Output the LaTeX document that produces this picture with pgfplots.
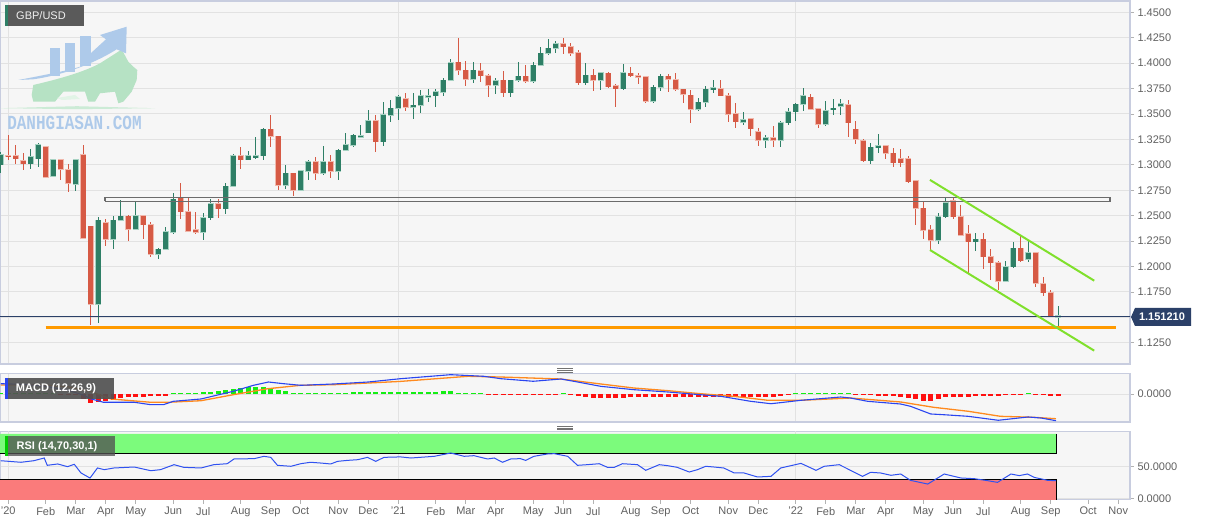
\documentclass[border=0pt]{standalone}
\usepackage{pgfplots}
\pgfplotsset{compat=1.18}
\usepackage{pgfplotstable}
\usepackage{fontspec}
\setmainfont{Liberation Sans}
\newfontfamily\wmfont{Liberation Mono}
\definecolor{upc}{HTML}{2E7F66}
\definecolor{uph}{HTML}{A6D2C2}
\definecolor{dnc}{HTML}{D65A45}
\definecolor{dnh}{HTML}{F0B8AC}
\definecolor{gridc}{HTML}{E2E2E2}
\definecolor{bgc}{HTML}{F6F6F6}
\definecolor{framec}{HTML}{C8CDDF}
\definecolor{tickc}{HTML}{606060}
\definecolor{navy}{HTML}{2B4068}
\definecolor{orangec}{HTML}{FF9A00}
\definecolor{chan}{HTML}{80E02C}
\definecolor{macdb}{HTML}{2A45F0}
\definecolor{macdo}{HTML}{FF8A1E}
\definecolor{histg}{HTML}{14EE14}
\definecolor{histr}{HTML}{FF1010}
\definecolor{rsig}{HTML}{7CFB7C}
\definecolor{rsir}{HTML}{FA7B7B}
\definecolor{rsil}{HTML}{3052F0}
\definecolor{wmblue}{HTML}{AECAEA}
\definecolor{wmgreen}{HTML}{B6E2C4}
\definecolor{boxg}{HTML}{5A5A5A}

\pgfplotstableread{
i O H L C
0 1.300 1.313 1.292 1.310
1 1.309 1.329 1.305 1.308
2 1.309 1.320 1.301 1.306
3 1.304 1.312 1.295 1.301
4 1.301 1.316 1.296 1.308
5 1.306 1.321 1.298 1.320
6 1.318 1.319 1.288 1.288
7 1.289 1.306 1.288 1.305
8 1.305 1.306 1.285 1.296
9 1.295 1.301 1.273 1.282
10 1.281 1.305 1.274 1.305
11 1.310 1.320 1.227 1.2276
12 1.2397 1.240 1.1423 1.163
13 1.163 1.249 1.1446 1.2456
14 1.243 1.247 1.220 1.227
15 1.227 1.2496 1.2168 1.2456
16 1.2456 1.265 1.2456 1.2496
17 1.2496 1.2506 1.225 1.237
18 1.237 1.2637 1.236 1.250
19 1.250 1.250 1.227 1.241
20 1.241 1.244 1.2096 1.212
21 1.212 1.2178 1.2076 1.2171
22 1.2171 1.239 1.216 1.234
23 1.234 1.2725 1.2325 1.266
24 1.267 1.282 1.247 1.254
25 1.254 1.2686 1.235 1.235
26 1.236 1.254 1.232 1.234
27 1.234 1.253 1.226 1.248
28 1.248 1.266 1.246 1.262
29 1.262 1.2666 1.248 1.257
30 1.257 1.282 1.252 1.279
31 1.279 1.311 1.279 1.3086
32 1.3086 1.318 1.296 1.305
33 1.305 1.314 1.305 1.3086
34 1.307 1.327 1.306 1.309
35 1.309 1.336 1.305 1.335
36 1.335 1.349 1.318 1.328
37 1.328 1.328 1.275 1.280
38 1.280 1.300 1.276 1.2916
39 1.2916 1.292 1.269 1.275
40 1.275 1.295 1.274 1.294
41 1.294 1.305 1.285 1.303
42 1.303 1.308 1.285 1.292
43 1.292 1.3185 1.290 1.303
44 1.303 1.310 1.287 1.294
45 1.294 1.316 1.285 1.3145
46 1.3145 1.331 1.3145 1.3195
47 1.3195 1.330 1.318 1.329
48 1.327 1.339 1.327 1.3288
49 1.3316 1.354 1.331 1.3434
50 1.3434 1.349 1.313 1.3227
51 1.3227 1.362 1.319 1.349
52 1.349 1.364 1.3424 1.3555
53 1.3555 1.3686 1.344 1.367
54 1.365 1.3703 1.353 1.3565
55 1.3565 1.371 1.3447 1.3585
56 1.3585 1.374 1.3513 1.3677
57 1.3665 1.3744 1.362 1.368
58 1.368 1.3744 1.3565 1.3716
59 1.3716 1.3853 1.368 1.383
60 1.3834 1.4037 1.383 1.4005
61 1.401 1.4244 1.388 1.393
62 1.393 1.4025 1.3778 1.384
63 1.384 1.401 1.380 1.393
64 1.3923 1.400 1.381 1.3877
65 1.3877 1.389 1.367 1.3785
66 1.3785 1.385 1.3696 1.3828
67 1.383 1.392 1.367 1.371
68 1.371 1.3834 1.367 1.383
69 1.3834 1.4008 1.381 1.387
70 1.387 1.398 1.380 1.3825
71 1.3825 1.401 1.380 1.398
72 1.398 1.416 1.398 1.4097
73 1.4097 1.4234 1.408 1.4145
74 1.4145 1.422 1.4097 1.4188
75 1.4188 1.4244 1.4087 1.416
76 1.416 1.4195 1.4074 1.410
77 1.410 1.4133 1.3785 1.3808
78 1.3808 1.3998 1.3785 1.388
79 1.388 1.394 1.373 1.3834
80 1.3834 1.391 1.374 1.3906
81 1.390 1.391 1.376 1.377
82 1.3775 1.379 1.357 1.375
83 1.375 1.399 1.374 1.3906
84 1.390 1.396 1.386 1.3877
85 1.3874 1.3906 1.379 1.3867
86 1.3867 1.3877 1.3605 1.3627
87 1.3627 1.3785 1.361 1.3762
88 1.3762 1.3893 1.373 1.387
89 1.387 1.3893 1.372 1.384
90 1.3834 1.3906 1.373 1.3742
91 1.3742 1.375 1.361 1.3693
92 1.3683 1.3736 1.3408 1.3548
93 1.3548 1.366 1.3532 1.3614
94 1.3614 1.3775 1.3565 1.3742
95 1.3745 1.3834 1.371 1.3755
96 1.3749 1.3834 1.3677 1.368
97 1.368 1.3703 1.3424 1.350
98 1.350 1.3605 1.3359 1.3424
99 1.3421 1.3519 1.339 1.344
100 1.345 1.3457 1.3283 1.3355
101 1.3326 1.3365 1.3188 1.3244
102 1.324 1.3293 1.3162 1.3267
103 1.3267 1.3381 1.3172 1.324
104 1.324 1.3434 1.3172 1.3414
105 1.3414 1.3555 1.339 1.3523
106 1.3523 1.3605 1.3434 1.3595
107 1.3597 1.3754 1.3534 1.3679
108 1.3665 1.3698 1.354 1.355
109 1.355 1.3557 1.336 1.340
110 1.340 1.3623 1.3383 1.3531
111 1.3544 1.3646 1.3492 1.3554
112 1.3574 1.3646 1.3492 1.360
113 1.359 1.3633 1.3272 1.3416
114 1.335 1.3436 1.3203 1.3252
115 1.3236 1.3252 1.3032 1.3042
116 1.3042 1.3213 1.3006 1.3173
117 1.3173 1.3305 1.3121 1.3187
118 1.3187 1.3196 1.3055 1.3114
119 1.3114 1.3164 1.2983 1.3023
120 1.3059 1.3154 1.2977 1.3023
121 1.3059 1.3091 1.2826 1.2836
122 1.2842 1.2845 1.2409 1.2573
123 1.2573 1.2645 1.2271 1.236
124 1.236 1.2409 1.2163 1.2262
125 1.2262 1.2524 1.2222 1.2491
126 1.2491 1.2672 1.2475 1.2629
127 1.2649 1.2672 1.2465 1.2491
128 1.2491 1.2606 1.2304 1.2311
129 1.2321 1.2409 1.194 1.2245
130 1.2245 1.2327 1.2157 1.2268
131 1.2268 1.2334 1.1973 1.2098
132 1.2098 1.2170 1.1868 1.2039
133 1.2039 1.2058 1.177 1.1858
134 1.1858 1.2058 1.1852 1.1999
135 1.1999 1.2245 1.1983 1.218
136 1.218 1.2301 1.2048 1.2058
137 1.2075 1.2262 1.2048 1.2137
138 1.2137 1.2147 1.1802 1.1835
139 1.1829 1.19 1.171 1.1743
140 1.1743 1.177 1.150 1.1513
141 1.1508 1.1612 1.1409 1.1512
}\candles

\pgfplotstableread{
i v
0 0.002
1 0.002
2 0.002
3 0.002
4 0.002
5 0.0018
6 0.0015
7 0.0015
8 -0.0015
9 -0.0015
10 -0.002
11 -0.0078
12 -0.015
13 -0.0133
14 -0.011
15 -0.0094
16 -0.0067
17 -0.0055
18 -0.005
19 -0.0045
20 -0.004
21 -0.0035
22 -0.003
23 0.0015
24 0.0015
25 0.0018
26 0.002
27 0.0028
28 0.0035
29 0.005
30 0.0067
31 0.0085
32 0.01
33 0.011
34 0.0117
35 0.0117
36 0.01
37 0.007
38 0.0045
39 0.002
40 0.0015
41 0.0015
42 0.0015
43 0.0015
44 0.0018
45 0.002
46 0.0025
47 0.003
48 0.0033
49 0.0033
50 0.0033
51 0.0035
52 0.0035
53 0.004
54 0.004
55 0.0035
56 0.0035
57 0.004
58 0.004
59 0.0045
60 0.0045
61 0.002
62 0.0017
63 0.0015
64 0.0015
65 -0.0015
66 -0.0015
67 -0.0018
68 -0.0018
69 -0.0018
70 -0.0018
71 -0.0015
72 -0.0015
73 -0.0015
74 -0.0015
75 0.0015
76 -0.002
77 -0.004
78 -0.0055
79 -0.006
80 -0.0067
81 -0.0067
82 -0.0067
83 -0.006
84 -0.0055
85 -0.0055
86 -0.0055
87 -0.005
88 -0.005
89 -0.005
90 -0.005
91 -0.005
92 -0.005
93 -0.0048
94 -0.0045
95 -0.0045
96 -0.0045
97 -0.005
98 -0.0055
99 -0.0055
100 -0.0055
101 -0.0055
102 -0.0055
103 -0.0055
104 -0.003
105 -0.0015
106 0.0015
107 0.0018
108 0.002
109 0.002
110 0.002
111 0.0022
112 0.0022
113 0.0015
114 -0.0015
115 -0.0018
116 -0.002
117 -0.003
118 -0.0035
119 -0.004
120 -0.005
121 -0.006
122 -0.009
123 -0.011
124 -0.011
125 -0.0085
126 -0.0055
127 -0.0055
128 -0.005
129 -0.0045
130 -0.004
131 -0.004
132 -0.0035
133 -0.003
134 -0.002
135 -0.0015
136 -0.0015
137 0.0015
138 -0.002
139 -0.002
140 -0.0025
141 -0.0025
}\hist

\pgfplotsset{
  panel/.style={scale only axis, width=1130bp, xmin=-0.1, xmax=150.57,
    anchor=north west,
    axis background/.style={fill=bgc},
    axis line style={draw=framec, line width=1.2bp},
    tick label style={font=\fontsize{11bp}{13bp}\selectfont, text=tickc},
    /pgf/number format/assume math mode=true,
    scaled y ticks=false,
    ytick pos=right, yticklabel pos=right,
    tick align=outside, major tick length=4bp,
    major tick style={draw=gray!60, line width=0.8bp},
    major grid style={draw=gridc, line width=1bp}},
}

\begin{document}
\begin{tikzpicture}
\useasboundingbox (0,0) rectangle (1207bp,526bp);

% ---------------- main price panel
\begin{axis}[panel, at={(0bp,525bp)}, height=363bp,
  ymin=1.1042, ymax=1.4611,
  ytick={1.125,1.15,1.175,1.2,1.225,1.25,1.275,1.3,1.325,1.35,1.375,1.4,1.425,1.45},
  yticklabels={1.1250,,1.1750,1.2000,1.2250,1.2500,1.2750,1.3000,1.3250,1.3500,1.3750,1.4000,1.4250,1.4500},
  xtick={1,53,106}, xticklabels={}, xtick style={draw=none},
  xmajorgrids, ymajorgrids]
% wicks
\addplot[draw=none, mark=none, forget plot,
  restrict expr to domain={\thisrow{C}-\thisrow{O}}{0:1},
  error bars/.cd, y dir=both, y explicit, error mark=none,
  error bar style={draw=upc, line width=1.3bp}]
  table[x=i, y expr={(\thisrow{H}+\thisrow{L})/2}, y error expr={(\thisrow{H}-\thisrow{L})/2}] {\candles};
\addplot[draw=none, mark=none, forget plot,
  restrict expr to domain={\thisrow{C}-\thisrow{O}}{-1:-0.00001},
  error bars/.cd, y dir=both, y explicit, error mark=none,
  error bar style={draw=dnc, line width=1.3bp}]
  table[x=i, y expr={(\thisrow{H}+\thisrow{L})/2}, y error expr={(\thisrow{H}-\thisrow{L})/2}] {\candles};
% body halos
\addplot[draw=none, mark=none, forget plot,
  restrict expr to domain={\thisrow{C}-\thisrow{O}}{0:1},
  error bars/.cd, y dir=both, y explicit, error mark=none,
  error bar style={draw=uph, line width=6.4bp}]
  table[x=i, y expr={(\thisrow{O}+\thisrow{C})/2}, y error expr={max(abs(\thisrow{C}-\thisrow{O})/2,0.0006)+0.0006}] {\candles};
\addplot[draw=none, mark=none, forget plot,
  restrict expr to domain={\thisrow{C}-\thisrow{O}}{-1:-0.00001},
  error bars/.cd, y dir=both, y explicit, error mark=none,
  error bar style={draw=dnh, line width=6.4bp}]
  table[x=i, y expr={(\thisrow{O}+\thisrow{C})/2}, y error expr={max(abs(\thisrow{C}-\thisrow{O})/2,0.0006)+0.0006}] {\candles};
% bodies
\addplot[draw=none, mark=none, forget plot,
  restrict expr to domain={\thisrow{C}-\thisrow{O}}{0:1},
  error bars/.cd, y dir=both, y explicit, error mark=none,
  error bar style={draw=upc, line width=5bp}]
  table[x=i, y expr={(\thisrow{O}+\thisrow{C})/2}, y error expr={max(abs(\thisrow{C}-\thisrow{O})/2,0.0006)}] {\candles};
\addplot[draw=none, mark=none, forget plot,
  restrict expr to domain={\thisrow{C}-\thisrow{O}}{-1:-0.00001},
  error bars/.cd, y dir=both, y explicit, error mark=none,
  error bar style={draw=dnc, line width=5bp}]
  table[x=i, y expr={(\thisrow{O}+\thisrow{C})/2}, y error expr={max(abs(\thisrow{C}-\thisrow{O})/2,0.0006)}] {\candles};
% resistance box
\addplot[draw=black!58, line width=1.3bp, fill=none, forget plot] coordinates {(13.9,1.2643)(147.9,1.2643)(147.9,1.2677)(13.9,1.2677)(13.9,1.2643)};
% support line
\addplot[orangec, line width=3.4bp, forget plot] coordinates {(6,1.1403)(148.7,1.1403)};
% last price line
\addplot[navy, line width=1.2bp, forget plot] coordinates {(-1,1.1512)(152,1.1512)};
% channel
\addplot[chan, line width=2bp, forget plot] coordinates {(123.9,1.2852)(145.8,1.1861)};
\addplot[chan, line width=2bp, forget plot] coordinates {(123.9,1.2163)(145.8,1.1173)};
\end{axis}

% ---------------- MACD panel
\begin{axis}[panel, at={(0bp,152.5bp)}, height=48.5bp,
  ymin=-0.04667, ymax=0.03417,
  ytick={0}, yticklabels={0.0000},
  xtick={1,53,106}, xticklabels={}, xtick style={draw=none},
  xmajorgrids, ymajorgrids]
\addplot[ycomb, histg, line width=5bp, mark=none, restrict y to domain=0:1] table[x=i, y=v] {\hist};
\addplot[ycomb, histr, line width=5bp, mark=none, restrict y to domain=-1:0] table[x=i, y=v] {\hist};
\addplot[macdo, line width=1.3bp, mark=none] coordinates {
(0,0.015)(5,0.0155)(9,0.012)(12,0.004)(14.7,-0.0083)(20,-0.0138)(22.3,-0.0138)(26.7,-0.0112)(31,-0.0012)(35.6,0.0088)(40,0.0145)(44.4,0.0155)(49,0.0183)(53.3,0.021)(62.3,0.0295)(66.7,0.0283)(74.7,0.025)(80,0.0167)(84.4,0.01)(89,0.0055)(93.3,0.0005)(97.7,-0.0038)(102.3,-0.0105)(106.7,-0.0105)(113.3,-0.0067)(120,-0.0133)(124.4,-0.0222)(129,-0.0288)(133.3,-0.0372)(137.7,-0.0388)(140.7,-0.0412)};
\addplot[macdb, line width=1.1bp, mark=none] coordinates {
(0,0.0172)(3,0.016)(6,0.013)(9,0.006)(11,-0.0017)(12,-0.008)(13.7,-0.0138)(17.8,-0.0138)(20,-0.0178)(21.7,-0.0178)(23,-0.0122)(26.7,-0.0083)(31,0.0045)(33.7,0.0145)(35.7,0.02)(37.7,0.0172)(40,0.0145)(44.4,0.0167)(49,0.02)(53.3,0.0255)(60,0.0322)(64.4,0.0295)(66.7,0.0255)(71,0.0212)(74.7,0.025)(76.4,0.0212)(80,0.0128)(84.4,0.0072)(89,0.0033)(93.3,-0.0012)(96,-0.0038)(100,-0.0122)(102.7,-0.0162)(104.4,-0.0138)(106.7,-0.0105)(112,-0.005)(113.3,-0.0067)(115.6,-0.0122)(120,-0.0167)(121.3,-0.0205)(124,-0.0333)(125.7,-0.0345)(129,-0.0372)(133,-0.0438)(137,-0.0383)(138.7,-0.04)(140.7,-0.0445)};
\end{axis}

% ---------------- RSI panel
\begin{axis}[panel, at={(0bp,94.7bp)}, height=68.4bp,
  ymin=-1.54, ymax=104,
  ytick={0,50}, yticklabels={0.0000,50.0000},
  xtick={1,6,10,14,18,23,27,32,36,40,45,49,53,58,62,66,71,75,79,84,88,92,97,101,106,110,114,118,123,127,131,136,140,145,149},
  xticklabels={'20,Feb,Mar,Apr,May,Jun,Jul,Aug,Sep,Oct,Nov,Dec,'21,Feb,Mar,Apr,May,Jun,Jul,Aug,Sep,Oct,Nov,Dec,'22,Feb,Mar,Apr,May,Jun,Jul,Aug,Sep,Oct,Nov},
  xtick pos=bottom,
  extra x ticks={1,53,106}, extra x tick labels={},
  extra x tick style={grid=major, major tick length=0pt},
  ymajorgrids]
\addplot[fill=rsig, draw=none, forget plot] coordinates {(-1,70)(140.8,70)(140.8,100)(-1,100)(-1,70)};
\addplot[fill=rsir, draw=none, forget plot] coordinates {(-1,-5)(140.8,-5)(140.8,30)(-1,30)(-1,-5)};
\addplot[black, line width=0.9bp, forget plot] coordinates {(-1,70)(140.8,70)(140.8,100)};
\addplot[black, line width=0.9bp, forget plot] coordinates {(-1,30)(140.8,30)(140.8,-5)};
\addplot[rsil, line width=1bp, mark=none] coordinates {
(0,58.6)(2.7,56.2)(4.4,58.6)(5.8,62.8)(6.2,51.5)(7.6,53.6)(8.9,49.4)(9.8,53.1)(10.7,39.7)(11.9,31.9)(12.9,47.4)(13.8,44.8)(15.1,47.4)(17.8,48.9)(20,43.2)(21.3,44.8)(23.1,52.5)(24.4,48.4)(26.7,47.4)(28.4,52.5)(30.2,54)(31.1,61.3)(33.8,61.8)(35.1,65.4)(36,63.8)(36.9,51.5)(38.7,50)(40,54)(41.3,56.2)(42.7,55)(44,53.6)(44.9,57.6)(46.2,59.1)(47.6,60.2)(48.9,63.8)(50,57.6)(51.1,63.8)(53.3,64.5)(54.7,62.8)(57.8,65.4)(60,70.5)(61.8,65.4)(63.1,66.4)(64.9,61.3)(65.8,62.8)(66.9,56.2)(68,61.3)(69.3,61.8)(70,59.1)(71.1,65.4)(72.9,69)(73.8,69.5)(75.6,65.4)(76.9,51.5)(78.2,52.5)(79.8,54)(80.9,48.4)(81.8,48.4)(82.9,54)(84.9,52.5)(86,43.8)(87.8,52.5)(88.9,51)(90.2,48.4)(91.8,41.2)(92.9,44.8)(94,50)(95.1,48.9)(96.4,47.4)(97.8,39.7)(99.1,39.7)(100.9,33.5)(102.7,34.5)(104,47.4)(106.7,54.5)(108.7,43.8)(109.8,50)(111.8,52.5)(113.3,43.8)(114.9,34.5)(116,40.7)(117.3,39.7)(118.7,36.1)(120,38.1)(121.3,28.3)(123.6,22.6)(125.8,38.1)(128,32)(129.8,30.9)(131.6,27.8)(132.9,25.2)(134.7,38.1)(135.8,35.6)(136.9,38.1)(137.8,32.9)(139.6,28.3)(140.7,27.8)};
\end{axis}

% ---------------- decorations
\begin{scope}[x=1bp,y=1bp]
% watermark logo
\fill[wmgreen!70] (0,417.8) -- (77,419.8) -- (155,417.8) -- (77,416.8) -- cycle;
\fill[wmgreen] (33.3,441) .. controls (50,445) and (80,452) .. (100,462.7) -- (118.3,474.3) -- (121.7,476.7) -- (128.3,464.3) -- (133.3,459.3) -- (137.3,456) -- (136.7,446) -- (131.7,434.3) -- (123.3,424.3) -- (118.3,422.7) -- (115,434.3) -- (100,432.7) -- (95,424.3) -- (88.3,424.3) -- (85,434.3) -- (63.3,434.3) -- (55,424.3) -- (33.3,424.3) -- (31.7,431) -- cycle;
\fill[white!60!wmgreen] (57,428) -- (75,431) -- (80,427) -- (62,426) -- cycle;
\fill[wmblue] (50,450) rectangle (60,478);
\fill[wmblue] (64.5,454) rectangle (75,483);
\fill[wmblue] (80,460) rectangle (91,490);
\fill[wmblue] (18.3,446) .. controls (45,451) and (70,456) .. (80,459.3) -- (90.7,472.7) -- (106,486.7) -- (100,491) -- (126.7,499.3) -- (126,472.7) -- (116.7,476.7) .. controls (100,466) and (70,452) .. (33.3,446.7) -- cycle;
\node[text=wmblue, inner sep=0pt] at (74.5,403.5) {\scalebox{1}[1.25]{\wmfont\bfseries\fontsize{16bp}{17bp}\selectfont DANHGIASAN.COM}};
% title box
\fill[boxg] (5,521) rectangle (84,500.3);
\fill[upc] (5,521) rectangle (7.5,500.3);
\node[text=white!94!black, inner sep=0pt] at (41,510.6) {\fontsize{11bp}{13bp}\selectfont GBP/USD};
% MACD label
\fill[black!68, opacity=0.92] (5,148) rectangle (114,126.5);
\fill[macdb] (5,148) rectangle (7.5,126.5);
\node[text=white, inner sep=0pt] at (56,137.3) {\fontsize{11bp}{13bp}\selectfont\bfseries MACD (12,26,9)};
% RSI label
\fill[black!68, opacity=0.78] (5,89.7) rectangle (115,69.7);
\fill[green!80!black] (5,89.7) rectangle (7.5,69.7);
\node[text=white, inner sep=0pt] at (57,79.6) {\fontsize{11bp}{13bp}\selectfont\bfseries RSI (14,70,30,1)};
% price label
\fill[navy] (1131,209) -- (1135,218) -- (1191,218) -- (1191,200) -- (1135,200) -- cycle;
\node[text=white, inner sep=0pt] at (1162,209) {\fontsize{11bp}{13bp}\selectfont\bfseries 1.151210};
% panel handles
\foreach \yy in {154,155.6,157.2,96.5,98.1,99.7} {\draw[black!55, line width=0.7bp] (557,\yy) -- (573,\yy);}
\end{scope}
\end{tikzpicture}
\end{document}
